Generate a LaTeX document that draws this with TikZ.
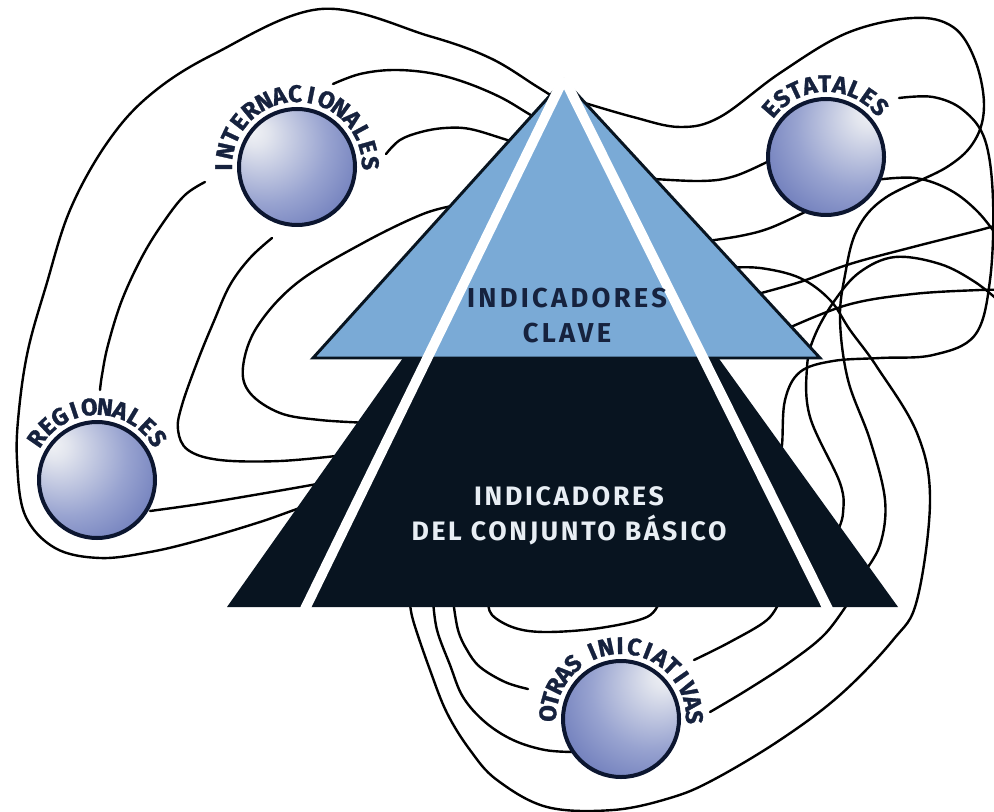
\documentclass[tikz,border=0pt]{standalone}
\usepackage{fontspec}
\setmainfont{Fira Sans}
\newfontfamily\pyrfonttop[LetterSpace=12]{Fira Sans}
\newfontfamily\pyrfontbot[LetterSpace=10]{Fira Sans}
\newfontfamily\myarcfamily[FakeBold=1.2]{Fira Sans}
\definecolor{lblue}{RGB}{122,170,214}
\definecolor{navy}{RGB}{8,20,32}
\definecolor{txtnavy}{RGB}{22,34,62}
\definecolor{txtlight}{RGB}{232,238,244}
\definecolor{sphline}{RGB}{12,22,48}
\definecolor{sphhi}{RGB}{242,243,246}
\definecolor{sphhitwo}{RGB}{226,229,238}
\definecolor{sphmid}{RGB}{152,163,208}
\definecolor{sphlow}{RGB}{88,104,176}
\definecolor{sphedge}{RGB}{52,66,142}
\pgfdeclareradialshading{sphL}{\pgfpoint{-20bp}{16bp}}{color(0bp)=(sphhi); color(6bp)=(sphhitwo); color(26bp)=(sphmid); color(48bp)=(sphlow); color(75bp)=(sphedge)}
\pgfdeclareradialshading{sphR}{\pgfpoint{20bp}{20bp}}{color(0bp)=(sphhi); color(6bp)=(sphhitwo); color(26bp)=(sphmid); color(48bp)=(sphlow); color(75bp)=(sphedge)}
% letters set one by one along a circle round a sphere node
% #1 sphere node, #2 angle of first letter, #3 angular pitch, #4 radius, #5 letters
\newcommand\arcword[5]{%
  \foreach \ch [count=\k from 0] in {#5} {%
    \pgfmathsetmacro\ang{#2-\k*#3}%
    \pgfmathsetmacro\rot{\ang-90}%
    \node[arcletter, rotate=\rot] (#1-\k-\ch) at ([shift={(\ang:#4)}]#1.center) {\ch};
  }}
\begin{document}
\begin{tikzpicture}[x=0.75pt,y=0.75pt,
  link/.style={draw=black, line width=1.8pt, line cap=round},
  sphere/.style={circle, minimum size=87pt, inner sep=0pt, draw=sphline, line width=3pt, shade},
  arcletter/.style={font={\myarcfamily\bfseries\fontsize{18}{20}\selectfont}, text=txtnavy, inner sep=0pt, anchor=base},
  pyrtext/.style={align=center, inner sep=0pt}
]
\path[use as bounding box, fill=white] (0,0) rectangle (994,-812);

% ---------- connecting curves (drawn first, under everything) ----------
% left side
\draw[link] plot[smooth, tension=0.6] coordinates {(555,-98) (536,-86) (490,-58) (429,-36) (321,-9) (214,-54) (150,-95) (107,-143) (70,-210) (46,-286) (28,-350) (19,-410) (17,-460) (25,-515) (55,-548) (100,-558) (150,-552) (200,-540) (260,-522) (300,-508) (322,-502)};
\draw[link] plot[smooth, tension=0.6] coordinates {(333,-84) (360,-74) (393,-70) (430,-73) (464,-82) (500,-97) (529,-114) (548,-125)};
\draw[link] plot[smooth, tension=0.6] coordinates {(386,-154) (400,-140) (421,-132) (445,-128) (470,-129) (504,-139) (525,-146)};
\draw[link] plot[smooth, tension=0.6] coordinates {(205,-182) (185,-195) (165,-220) (143,-255) (122,-300) (108,-345) (102,-375) (100,-390)};
\draw[link] plot[smooth, tension=0.6] coordinates {(272,-238) (250,-258) (230,-285) (214,-321) (198,-360) (182,-405) (178,-430) (188,-450) (220,-460) (280,-461) (345,-455)};
\draw[link] plot[smooth, tension=0.6] coordinates {(458,-205) (423,-214) (363,-243) (297,-283) (257,-327) (243,-367) (250,-393) (280,-413) (320,-420) (370,-423)};
\draw[link] plot[smooth, tension=0.6] coordinates {(150,-511) (200,-504) (260,-494) (317,-484) (335,-480)};
% right side
\draw[link] plot[smooth, tension=0.6] coordinates {(640,-178) (700,-181) (735,-176) (775,-158)};
\draw[link] plot[smooth, tension=0.6] coordinates {(700,-242) (740,-236) (770,-228) (805,-212)};
\draw[link] plot[smooth, tension=0.6] coordinates {(575,-100) (633,-117) (680,-127) (720,-117) (780,-73) (847,-33) (913,-18) (953,-27) (975,-60) (984,-105) (975,-140) (947,-167) (885,-198) (857,-230) (845,-275) (840,-320) (848,-380) (870,-440) (885,-500) (880,-545) (862,-575)};
\draw[link] plot[smooth, tension=0.6] coordinates {(899,-98) (933,-97) (963,-110) (985,-140) (993,-200) (990,-280) (975,-335) (933,-355) (880,-358) (833,-361) (800,-372) (785,-400) (782,-445) (778,-462)};
\draw[link] plot[smooth, tension=0.6] coordinates {(875,-180) (915,-178) (950,-190) (978,-212) (1000,-240)};
\draw[link] plot[smooth, tension=0.6] coordinates {(750,-296) (800,-282) (850,-264) (913,-247) (980,-230) (1000,-224)};
\draw[link] plot[smooth, tension=0.6] coordinates {(782,-331) (847,-305) (913,-294) (980,-290) (1000,-290)};
\draw[link] plot[smooth, tension=0.6] coordinates {(838,-530) (843,-513) (840,-483) (810,-417) (807,-367) (815,-335) (835,-300) (860,-272) (895,-257) (940,-264) (975,-282) (1000,-302)};
% bottom
\draw[link] plot[smooth, tension=0.6] coordinates {(410,-600) (413,-620) (430,-670) (447,-713) (470,-750) (497,-780) (547,-807) (613,-810) (670,-798) (713,-780) (780,-740) (840,-695) (893,-640) (917,-600) (930,-500) (917,-433) (877,-367) (850,-330) (830,-300) (800,-278) (760,-268) (725,-268)};
\draw[link] plot[smooth, tension=0.6] coordinates {(433,-600) (437,-630) (450,-665) (463,-697) (485,-722) (513,-740) (545,-750) (575,-752)};
\draw[link] plot[smooth, tension=0.6] coordinates {(453,-600) (458,-630) (467,-650) (480,-667) (505,-682) (528,-689)};
\draw[link] plot[smooth, tension=0.6] coordinates {(488,-600) (492,-615) (515,-628) (547,-632) (600,-628) (647,-617) (660,-600)};
\draw[link] plot[smooth, tension=0.6] coordinates {(694,-660) (730,-642) (767,-620) (780,-600)};
\draw[link] plot[smooth, tension=0.6] coordinates {(710,-712) (747,-690) (790,-662) (825,-634) (850,-600)};

% ---------- pyramid ----------
\fill[navy] (403,-358) -- (718.5,-358) -- (898,-607) -- (227,-607) -- cycle;
\filldraw[fill=lblue, draw=navy, line width=2.2pt, line join=miter] (564,-80) -- (820,-358) -- (313,-358) -- cycle;
\begin{scope}
  \clip (200,-76) rectangle (920,-607);
  \draw[white, line width=7.5pt] (564,-78) -- (299.6,-620);
  \draw[white, line width=7.5pt] (564,-78) -- (833.4,-620);
\end{scope}
\node[pyrtext, text=txtnavy, font=\pyrfonttop\bfseries\fontsize{20.5}{26.25}\selectfont] (clave) at (567,-316) {INDICADORES\\CLAVE};
\node[pyrtext, text=txtlight, font=\pyrfontbot\bfseries\fontsize{20}{26.25}\selectfont] (basico) at (569,-516) {INDICADORES\\DEL CONJUNTO BÁSICO};

% ---------- spheres ----------
\node[sphere, shading=sphL] (int) at (297,-167) {};
\node[sphere, shading=sphR] (est) at (826,-157) {};
\node[sphere, shading=sphL] (reg) at (97,-480) {};
\node[sphere, shading=sphR] (otr) at (621,-719) {};

\arcword{int}{180}{12.64}{65}{I,N,T,E,R,N,A,C,I,O,N,A,L,E,S}
\arcword{est}{139}{12}{65}{E,S,T,A,T,A,L,E,S}
\arcword{reg}{145.3}{12.31}{65}{R,E,G,I,O,N,A,L,E,S}
\arcword{otr}{175.6}{11.16}{65}{O,T,R,A,S}
\arcword{otr}{113.1}{11.16}{65}{I,N,I,C,I,A,T,I,V,A,S}
\end{tikzpicture}
\end{document}
